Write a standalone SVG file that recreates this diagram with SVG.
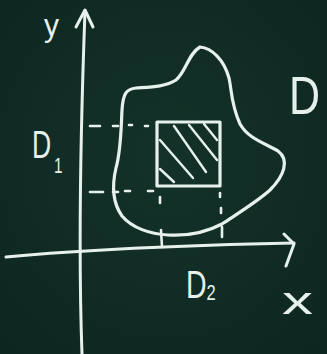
<svg xmlns="http://www.w3.org/2000/svg" width="327" height="354" viewBox="0 0 327 354">
<defs>
<radialGradient id="bg" cx="50%" cy="45%" r="75%">
<stop offset="0" stop-color="#143229"/>
<stop offset="1" stop-color="#0d2620"/>
</radialGradient>
<style>
.ch{fill:none;stroke:#e6f1ec;stroke-linecap:round;stroke-linejoin:round}
.ax{stroke-width:3}
.bd{stroke-width:3.2}
.dt{stroke-width:2.6}
.ht{stroke-width:2.4}
.lb{font-family:"Liberation Sans","DejaVu Sans",sans-serif;fill:#e6f1ec}
</style>
</defs>
<rect width="327" height="354" fill="url(#bg)"/>
<g id="connectors">
<path id="y-axis" class="ch ax" d="M82 354 C80 300 78 200 85 11"/>
<path id="y-arrow" class="ch ax" d="M76 27 L85 10 L93 27"/>
<path id="x-axis" class="ch ax" d="M6 257 C60 252 150 246 294 243"/>
<path id="x-arrow" class="ch ax" d="M284 234 L294 244 L286 266"/>
</g>
<g id="region-D">
<path class="ch bd" d="M200 47 C212 48 224 60 229 78 C232 92 231 104 240 124 C248 138 262 142 278 151 C290 160 284 176 270 190 C258 201 240 212 222 224 C205 233 185 236 168 235 C150 234 132 228 122 216 C112 202 112 185 116 168 C121 150 121 130 122 110 C123 94 126 89 136 88 C150 87 165 87 176 80 C186 72 188 54 200 47 Z"/>
</g>
<g id="rectangle">
<rect class="ch bd" x="157" y="122" width="63" height="64"/>
<g class="ch ht">
<line x1="160" y1="169" x2="174" y2="182"/>
<line x1="160" y1="140" x2="193" y2="178"/>
<line x1="174" y1="126" x2="206" y2="172"/>
<line x1="189" y1="125" x2="217" y2="160"/>
<line x1="204" y1="124" x2="217" y2="140"/>
</g>
</g>
<g id="projections" class="ch dt">
<line x1="90" y1="126" x2="100" y2="126"/>
<line x1="113" y1="126" x2="118" y2="126"/>
<line x1="129" y1="125" x2="132" y2="125"/>
<line x1="145" y1="126" x2="148" y2="126"/>
<line x1="90" y1="192" x2="103" y2="192"/>
<line x1="113" y1="192" x2="118" y2="192"/>
<line x1="125" y1="191" x2="130" y2="191"/>
<line x1="148" y1="191" x2="153" y2="191"/>
<line x1="160" y1="197" x2="160" y2="203"/>
<line x1="161" y1="230" x2="162" y2="247"/>
<line x1="220" y1="193" x2="220" y2="197"/>
<line x1="221" y1="208" x2="221" y2="213"/>
<line x1="222" y1="227" x2="222" y2="237"/>
</g>
<g id="labels">
<text class="lb" x="44" y="36" font-size="32" textLength="15" lengthAdjust="spacingAndGlyphs">y</text>
<text class="lb" x="289" y="114" font-size="54" textLength="31" lengthAdjust="spacingAndGlyphs">D</text>
<text class="lb" transform="translate(32 158) scale(0.7 1)" font-size="38">D<tspan font-size="22" dx="4" dy="15">1</tspan></text>
<text class="lb" transform="translate(186 298) scale(0.75 1)" font-size="38">D<tspan font-size="22" dx="0" dy="2">2</tspan></text>
<text class="lb" x="282" y="314" font-size="38" textLength="31" lengthAdjust="spacingAndGlyphs">x</text>
</g>
</svg>
